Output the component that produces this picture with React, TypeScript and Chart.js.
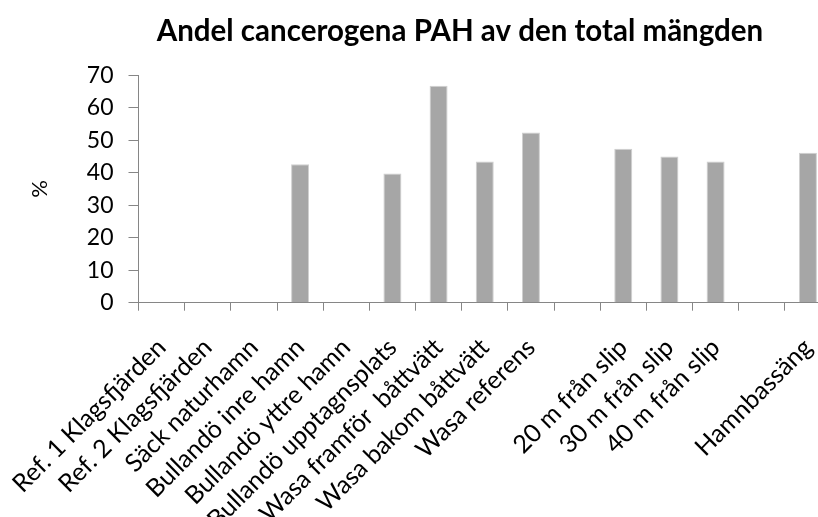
import React, { useEffect, useRef } from "react";
import { Chart, registerables } from "chart.js";

Chart.register(...registerables);

const title = "Andel cancerogena PAH av den total mängden";
const yAxisTitle = "%";
const categories = [
  "Ref. 1 Klagsfjärden",
  "Ref. 2 Klagsfjärden",
  "Säck naturhamn",
  "Bullandö inre hamn",
  "Bullandö yttre hamn",
  "Bullandö upptagnsplats",
  "Wasa framför  båttvätt",
  "Wasa bakom båttvätt",
  "Wasa referens",
  "",
  "20 m från slip",
  "30 m från slip",
  "40 m från slip",
  "",
  "Hamnbassäng",
];
const values: (number | null)[] = [
  null, null, null, 42.6, null, 39.8, 66.8, 43.5, 52.4, null, 47.4, 45.0, 43.5, null, 46.2,
];
const yMin = 0;
const yMax = 70;
const yStep = 10;

const W = 920;
const H = 560;
const FONT = "Lato, 'Open Sans', sans-serif";

export default function App() {
  const ref = useRef<HTMLCanvasElement | null>(null);
  useEffect(() => {
    if (!ref.current) return;
    const chart = new Chart(ref.current, {
      type: "bar",
      data: {
        labels: categories,
        datasets: [
          {
            data: values as any,
            backgroundColor: "#a6a6a6",
            borderColor: "#cfcfcf",
            borderWidth: 1,
            barPercentage: 0.39,
            categoryPercentage: 1,
          },
        ],
      },
      options: {
        animation: false,
        responsive: false,
        devicePixelRatio: 1,
        layout: { padding: 0 },
        plugins: {
          legend: { display: false },
          tooltip: { enabled: false },
          title: {
            display: true,
            text: title,
            color: "#000000",
            font: { family: FONT, size: 29.5, weight: "bold", lineHeight: 1.2 },
            padding: { top: 14, bottom: 26 },
          },
        },
        scales: {
          x: {
            afterFit: (s: any) => {
              s.height = H - 302.7;
              s.paddingLeft = 0;
              s.paddingRight = 0;
            },
            border: { color: "#868686", width: 1 },
            grid: { drawOnChartArea: false, drawTicks: true, tickLength: 8, color: "#868686", offset: true },
            ticks: {
              autoSkip: false,
              maxRotation: 45,
              minRotation: 45,
              padding: 22,
              color: "#000000",
              font: { family: FONT, size: 25 },
            },
          },
          y: {
            min: yMin,
            max: yMax,
            afterFit: (s: any) => {
              s.width = 138.5;
            },
            border: { color: "#868686", width: 1 },
            grid: { drawOnChartArea: false, drawTicks: true, tickLength: 10, color: "#868686" },
            ticks: {
              stepSize: yStep,
              padding: 15,
              color: "#000000",
              font: { family: FONT, size: 23 },
            },
            title: {
              display: true,
              text: yAxisTitle,
              color: "#000000",
              font: { family: FONT, size: 22 },
              padding: { top: 27, bottom: 0 },
            },
          },
          yRightSpace: {
            position: "right",
            display: true,
            afterFit: (s: any) => {
              s.width = W - 831;
            },
            border: { display: false },
            grid: { display: false, drawOnChartArea: false },
            ticks: { display: false },
          },
        },
      },
    });
    return () => chart.destroy();
  }, []);
  return (
    <div style={{ position: "fixed", left: 0, top: 0, width: 818, height: 517, overflow: "hidden", background: "#fff" }}>
      <canvas ref={ref} width={W} height={H} style={{ display: "block", width: W, height: H }} />
    </div>
  );
}
